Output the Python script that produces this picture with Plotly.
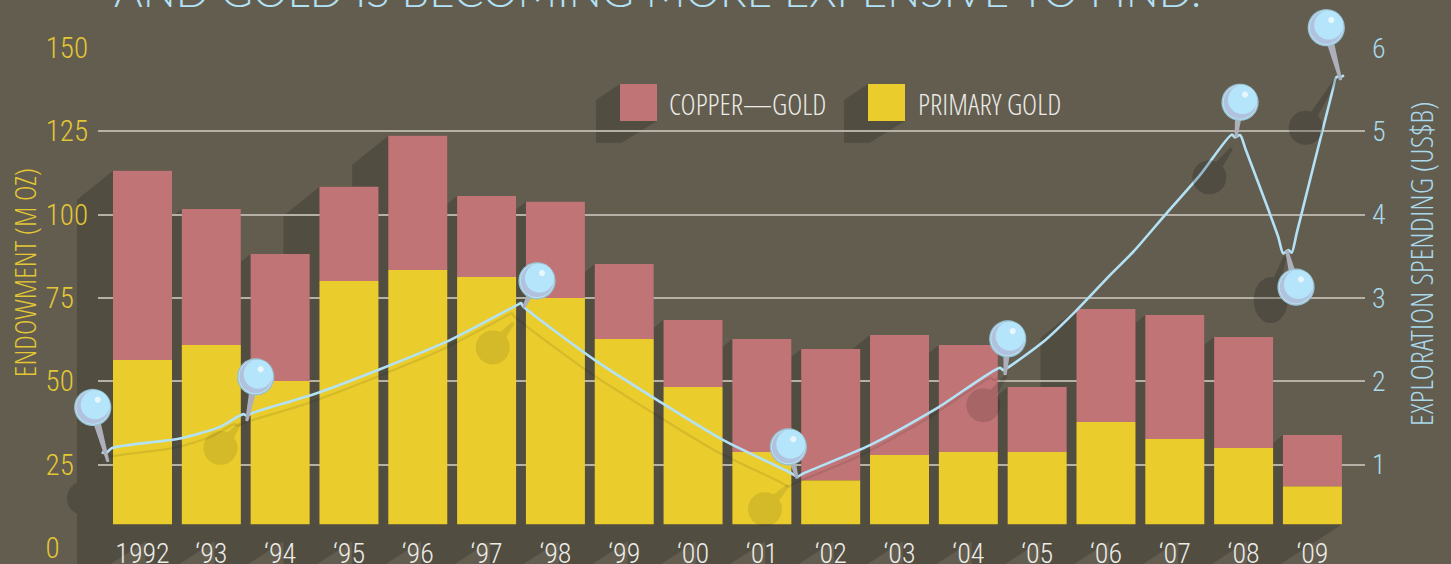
import math
import plotly.graph_objects as go

# ---------- data ----------
YEARS = ["1992", "‘93", "‘94", "‘95", "‘96", "‘97", "‘98", "‘99", "‘00", "‘01", "‘02", "‘03", "‘04", "‘05", "‘06", "‘07", "‘08", "‘09"]
PRIMARY_GOLD = [56.4, 60.9, 50.1, 80.1, 83.4, 81.3, 75.0, 62.7, 48.3, 28.8, 20.3, 27.9, 28.8, 28.8, 37.8, 32.7, 30.0, 18.5]
COPPER_GOLD = [56.8, 40.8, 38.1, 28.3, 40.3, 24.3, 28.9, 22.5, 20.1, 33.9, 39.4, 36.0, 32.1, 19.5, 33.9, 37.2, 33.3, 15.4]
SPEND_POS = [-0.593, -0.530, -0.447, 0.569, 1.126, 1.465, 1.514, 1.605, 2.532, 3.451, 4.469, 5.456, 5.500, 5.528,
             6.575, 7.520, 8.439, 9.409, 9.515, 9.602, 10.571, 11.540, 12.461, 12.504, 12.562, 13.089, 13.575, 14.059,
             14.397, 14.882, 15.366, 15.827, 15.875, 15.948, 16.034, 16.499, 16.576, 16.649, 16.698, 16.775, 17.269,
             17.352, 17.400, 17.458]
SPEND_USD_B = [1.150, 1.138, 1.198, 1.318, 1.454, 1.606, 1.588, 1.622, 1.858, 2.146, 2.495, 2.921, 2.939, 2.903,
               2.254, 1.754, 1.294, 0.906, 0.856, 0.894, 1.234, 1.675, 2.162, 2.134, 2.158, 2.474, 2.855, 3.275,
               3.555, 4.019, 4.475, 4.960, 4.928, 4.956, 4.772, 3.743, 3.535, 3.575, 3.543, 3.791, 5.412,
               5.655, 5.648, 5.672]
LEFT_TICKS = [0, 25, 50, 75, 100, 125, 150]
RIGHT_TICKS = [1, 2, 3, 4, 5, 6]
BAR_FLOOR = 7.12

# ---------- layout constants ----------
W, H = 1451, 564
PL, PR, PT, PB = 98.0, 1365.0, 48.0, 547.7
X0 = 142.5
STEP = 68.82
XMIN, XMAX = (PL - X0) / STEP, (PR - X0) / STEP
BAR_W = 59 / STEP
BG = "#635d50"
DARK = "#514d41"
PINK = "#c17476"
YELLOW = "#eacc2d"
SKY = "#b3e2f7"
SKY_TXT = "#a9d9ea"
GOLD_TXT = "#e3c733"
WHITE_TXT = "#ecebe6"
NARROW = "Open Sans Condensed Light, Roboto Condensed Light, Liberation Sans"
TICKFONT = "Roboto Condensed Light, Roboto Condensed, Liberation Sans"


def px_x(i):
    return X0 + STEP * i


def px_yl(v):
    return PB - v * (PB - PT) / 150


def px_yr(v):
    return PB - v * (PB - PT) / 6


def fx(px):
    return (px - PL) / (PR - PL)


def fy(py):
    return (PB - py) / (PB - PT)


def poly(points):
    return "M " + " L ".join(f"{fx(x):.5f},{fy(y):.5f}" for x, y in points) + " Z"


def ellipse(cx, cy, rx, ry, n=64):
    return [(cx + rx * math.cos(2 * math.pi * k / n), cy + ry * math.sin(2 * math.pi * k / n)) for k in range(n)]


def taper(ax, ay, bx, by, wa, wb):
    d = math.hypot(bx - ax, by - ay) or 1
    nx, ny = -(by - ay) / d, (bx - ax) / d
    return [(ax + nx * wa / 2, ay + ny * wa / 2), (bx + nx * wb / 2, by + ny * wb / 2),
            (bx - nx * wb / 2, by - ny * wb / 2), (ax - nx * wa / 2, ay - ny * wa / 2)]


def lollipop(cx, cy, rx, ry, tx, ty, w_base=8, w_tip=3, n=64):
    """Single outline of a head plus stem, so the translucent fill never doubles up."""
    ang = math.atan2((ty - cy) / ry, (tx - cx) / rx)
    delta = math.asin(min(0.9, w_base / 2 / min(rx, ry)))
    d = math.hypot(tx - cx, ty - cy) or 1
    nx, ny = -(ty - cy) / d, (tx - cx) / d
    pts = [(tx + nx * w_tip / 2, ty + ny * w_tip / 2)]
    for k in range(n + 1):
        a = ang + delta + (2 * math.pi - 2 * delta) * k / n
        pts.append((cx + rx * math.cos(a), cy + ry * math.sin(a)))
    pts.append((tx - nx * w_tip / 2, ty - ny * w_tip / 2))
    return pts


shapes = []
# bar shadows (under the grid)
for i, (g, c) in enumerate(zip(PRIMARY_GOLD, COPPER_GOLD)):
    L, R = px_x(i) - 29.5, px_x(i) + 29.5
    T = px_yl(g + c)
    B = px_yl(BAR_FLOOR)
    pts = [(L, T), (L - 36, T + 29), (L - 36, B + 46), (R - 71, B + 46), (R, B), (R, T)]
    shapes.append(dict(type="path", xref="paper", yref="paper", layer="below", path=poly(pts),
                       fillcolor=DARK, line_width=0))
# legend shadows
for sx in (620, 868):
    pts = [(sx, 84), (sx - 24, 100), (sx - 24, 142.7), (sx + 1.7, 142.7), (sx + 37, 121), (sx + 37, 84)]
    shapes.append(dict(type="path", xref="paper", yref="paper", layer="below", path=poly(pts),
                       fillcolor=DARK, line_width=0))
# pins: point index, head offset, tip offset, shadow centre offset, shadow tip offset, shadow alpha, shadow ry
PINS = [
    (1, (-13.3, -45.7), (2, 8.7), (-22, 45), None, None, 17),
    (6, (9, -38.8), (0, 5.5), (-26.2, 32.2), (-6.7, 7.5), 0.09, 17),
    (12, (16, -22.3), (2.3, 5), (-28.3, 44.3), (-7.7, 19.7), 0.09, 17),
    (18, (-9, -29.8), (0, 2), (-32.3, 32.5), (-9, 8.5), 0.09, 17),
    (23, (4.7, -31.3), (2, 5), (-19.7, 35), (3.7, 5), 0.13, 17),
    (32, (5, -35), (1, 0), (-25.7, 40), (-3.3, 11), 0.18, 17),
    (37, (7.7, 37), (-1.6, 0), (-17.6, 50), (-3.3, 6.7), 0.18, 23),
    (42, (-13.7, -49.6), (0.7, 2.7), (-34.3, 50.4), (-3.3, 1), 0.18, 17),
]
for idx, head, tip, sh, shtip, alpha, ry in PINS:
    ax, ay = px_x(SPEND_POS[idx]), px_yr(SPEND_USD_B[idx])
    sx, sy = ax + sh[0], ay + sh[1]
    if shtip is None:
        shapes.append(dict(type="path", xref="paper", yref="paper", layer="below",
                           path=poly(ellipse(sx, sy, 17, ry)), fillcolor=DARK, line_width=0))
    else:
        shapes.append(dict(type="path", xref="paper", yref="paper", layer="above",
                           path=poly(lollipop(sx, sy, 17, ry, ax + shtip[0], ay + shtip[1])),
                           fillcolor=f"rgba(0,0,0,{alpha})", line_width=0))
for idx, head, tip, sh, shtip, alpha, ry in PINS:
    ax, ay = px_x(SPEND_POS[idx]), px_yr(SPEND_USD_B[idx])
    hx, hy = ax + head[0], ay + head[1]
    shapes.append(dict(type="path", xref="paper", yref="paper", layer="above",
                       path=poly(taper(hx, hy, ax + tip[0], ay + tip[1], 9, 3)), fillcolor="#adb0ba", line_width=0))
    for r, ox, oy, col in [(18.6, 0, 0, "#98c2d2"), (17.2, 0, 0, "#bfe6f7"), (16.4, 0, 0, "#b1c2df"),
                           (14.4, 2.4, -2.6, "#b5e5fb"), (3.0, 5, -7.7, "#e9f6fc")]:
        shapes.append(dict(type="path", xref="paper", yref="paper", layer="above",
                           path=poly(ellipse(hx + ox, hy + oy, r, r)), fillcolor=col, line_width=0))
# legend swatches
shapes.append(dict(type="rect", xref="paper", yref="paper", layer="above", x0=fx(620), x1=fx(657), y0=fy(121), y1=fy(84),
                   fillcolor=PINK, line_width=0))
shapes.append(dict(type="rect", xref="paper", yref="paper", layer="above", x0=fx(868), x1=fx(905), y0=fy(121), y1=fy(84),
                   fillcolor=YELLOW, line_width=0))

annotations = [
    dict(text="AND GOLD IS BECOMING MORE EXPENSIVE TO FIND.", xref="paper", yref="paper", x=fx(657.5), y=fy(18),
         xanchor="center", yanchor="bottom", showarrow=False, font=dict(family="Lato Light, Lato", size=43.75, color=SKY)),
    dict(text="COPPER—GOLD", xref="paper", yref="paper", x=fx(667), y=fy(103), xanchor="left", yanchor="middle",
         showarrow=False, font=dict(family=NARROW, size=29, color=WHITE_TXT)),
    dict(text="PRIMARY GOLD", xref="paper", yref="paper", x=fx(916), y=fy(103), xanchor="left", yanchor="middle",
         showarrow=False, font=dict(family=NARROW, size=29, color=WHITE_TXT)),
    dict(text="ENDOWMENT (M OZ)", xref="paper", yref="paper", x=fx(24), y=fy(273), textangle=-90, xanchor="center",
         yanchor="middle", showarrow=False, font=dict(family=NARROW, size=30, color=GOLD_TXT)),
    dict(text="EXPLORATION SPENDING (US$B)", xref="paper", yref="paper", x=fx(1421), y=fy(264), textangle=-90,
         xanchor="center", yanchor="middle", showarrow=False, font=dict(family=NARROW, size=31, color=SKY_TXT)),
]

fig = go.Figure()
fig.add_trace(go.Bar(x=list(range(len(YEARS))), y=[g - BAR_FLOOR for g in PRIMARY_GOLD], base=BAR_FLOOR,
                     width=BAR_W, marker=dict(color=YELLOW, line_width=0), name="PRIMARY GOLD", yaxis="y"))
fig.add_trace(go.Bar(x=list(range(len(YEARS))), y=COPPER_GOLD, base=PRIMARY_GOLD,
                     width=BAR_W, marker=dict(color=PINK, line_width=0), name="COPPER—GOLD", yaxis="y"))
# faint cast shadow of the spending line, only visible up to the 2005 pin
SHADOW_END = 25
dx_sh, dy_sh = -9 / STEP, -10 / (PB - PT) * 6
fig.add_trace(go.Scatter(x=[p + dx_sh for p in SPEND_POS[:SHADOW_END]], y=[v + dy_sh for v in SPEND_USD_B[:SHADOW_END]],
                         mode="lines", line=dict(color="rgba(0,0,0,0.09)", width=2.2, shape="spline", smoothing=0.7),
                         yaxis="y2", hoverinfo="skip", showlegend=False))
fig.add_trace(go.Scatter(x=SPEND_POS, y=SPEND_USD_B, mode="lines",
                         line=dict(color=SKY, width=2.6, shape="spline", smoothing=0.7),
                         yaxis="y2", name="Exploration spending"))

fig.update_layout(
    width=W, height=H, autosize=False,
    paper_bgcolor=BG, plot_bgcolor="rgba(0,0,0,0)", showlegend=False, barmode="overlay",
    margin=dict(l=PL, r=W - PR, t=PT, b=H - PB, autoexpand=False),
    shapes=shapes, annotations=annotations,
    xaxis=dict(range=[XMIN, XMAX], tickmode="array", tickvals=list(range(len(YEARS))), ticktext=YEARS,
               showgrid=False, zeroline=False, showline=False, ticks="", ticklabelstandoff=-14,
               ticklabeloverflow="allow", tickfont=dict(family=TICKFONT, size=28, color=WHITE_TXT)),
    yaxis=dict(range=[0, 150], tickmode="array", tickvals=LEFT_TICKS,
               ticktext=[f"{t}" + "\u2007" * (3 - len(str(t))) for t in LEFT_TICKS],
               showgrid=True, gridcolor="#b5b1a7", gridwidth=1.5, zeroline=True, zerolinecolor="rgba(0,0,0,0)",
               showline=False, ticks="", ticklabelstandoff=9, ticklabeloverflow="allow",
               tickfont=dict(family=TICKFONT, size=29, color=GOLD_TXT)),
    yaxis2=dict(range=[0, 6], overlaying="y", side="right", tickmode="array", tickvals=RIGHT_TICKS,
                showgrid=False, zeroline=False, showline=False, ticks="", ticklabelstandoff=6,
                ticklabeloverflow="allow", tickfont=dict(family=TICKFONT, size=28, color=SKY_TXT)),
)
fig.write_html("out.html", config=dict(displayModeBar=False), post_script="document.body.style.margin='0';")
